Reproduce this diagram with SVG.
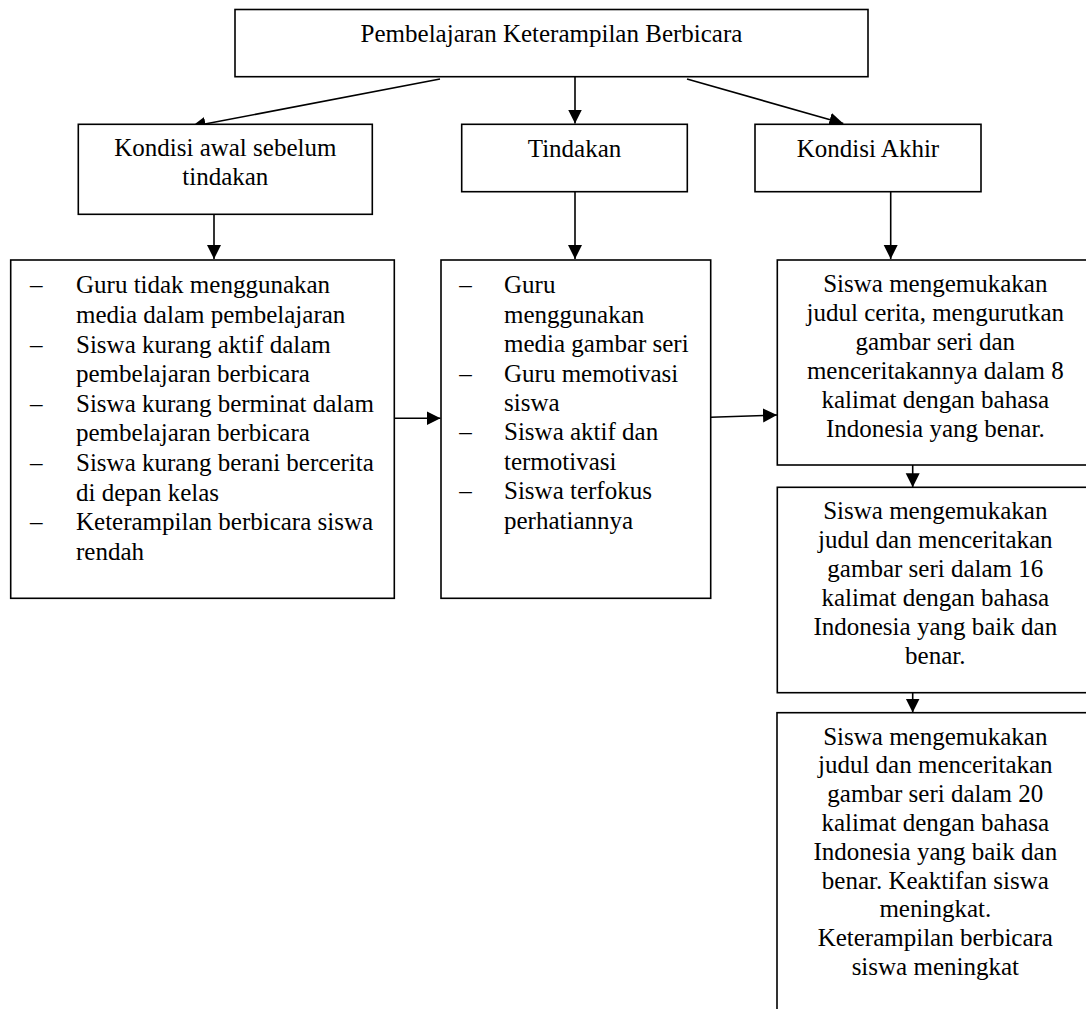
<svg xmlns="http://www.w3.org/2000/svg" width="1086" height="1009" viewBox="0 0 1086 1009">
<style>
.box{fill:#fff;stroke:#000;stroke-width:1.6}
.t{font-family:"Liberation Serif","Times New Roman",serif;font-size:25px;fill:#000}
.c{text-anchor:middle}
.ln{stroke:#000;stroke-width:1.6;fill:none;marker-end:url(#ah)}
</style>
<defs>
<marker id="ah" markerUnits="userSpaceOnUse" markerWidth="15" markerHeight="15" refX="14" refY="7" orient="auto">
<path d="M0,0 L14,7 L0,14 z" fill="#000"/>
</marker>
</defs>
<rect width="1086" height="1009" fill="#fff"/>
<g id="connectors">
<line class="ln" x1="440" y1="79" x2="191.7" y2="126.5"/>
<line class="ln" x1="575" y1="77" x2="575" y2="123.5"/>
<line class="ln" x1="687" y1="79" x2="843.3" y2="123.5"/>
<line class="ln" x1="214" y1="214.3" x2="214" y2="259"/>
<line class="ln" x1="575" y1="191.7" x2="575" y2="259"/>
<line class="ln" x1="890.7" y1="191.7" x2="890.7" y2="259"/>
<line class="ln" x1="394.3" y1="418.3" x2="440.5" y2="418.3"/>
<line class="ln" x1="710.7" y1="417.3" x2="777" y2="415"/>
<line class="ln" x1="912.7" y1="465" x2="912.7" y2="487.3"/>
<line class="ln" x1="912.7" y1="692.7" x2="912.7" y2="712.5"/>
</g>
<g id="title">
<rect class="box" x="235" y="9.5" width="633" height="67.2"/>
<text class="t c" x="551.5" y="42">Pembelajaran Keterampilan Berbicara</text>
</g>
<g id="kondisi-awal">
<rect class="box" x="78.3" y="124.3" width="294" height="90"/>
<text class="t c" x="225.3" y="156">Kondisi awal sebelum</text>
<text class="t c" x="225.3" y="185">tindakan</text>
</g>
<g id="tindakan">
<rect class="box" x="461.7" y="124.3" width="225.6" height="67.4"/>
<text class="t c" x="574.5" y="157.3">Tindakan</text>
</g>
<g id="kondisi-akhir">
<rect class="box" x="755" y="124.3" width="226" height="67.4"/>
<text class="t c" x="868" y="157.3">Kondisi Akhir</text>
</g>
<g id="awal-list">
<rect class="box" x="10.7" y="260" width="383.6" height="338.3"/>
<text class="t" x="30" y="293.3">–</text><text class="t" x="76" y="293.3">Guru tidak menggunakan</text>
<text class="t" x="76" y="322.9">media dalam pembelajaran</text>
<text class="t" x="30" y="352.5">–</text><text class="t" x="76" y="352.5">Siswa kurang aktif dalam</text>
<text class="t" x="76" y="382.1">pembelajaran berbicara</text>
<text class="t" x="30" y="411.7">–</text><text class="t" x="76" y="411.7">Siswa kurang berminat dalam</text>
<text class="t" x="76" y="441.3">pembelajaran berbicara</text>
<text class="t" x="30" y="470.9">–</text><text class="t" x="76" y="470.9">Siswa kurang berani bercerita</text>
<text class="t" x="76" y="500.5">di depan kelas</text>
<text class="t" x="30" y="530.1">–</text><text class="t" x="76" y="530.1">Keterampilan berbicara siswa</text>
<text class="t" x="76" y="559.7">rendah</text>
</g>
<g id="tindakan-list">
<rect class="box" x="441" y="260" width="269.7" height="338.3"/>
<text class="t" x="459.3" y="293.3">–</text><text class="t" x="504" y="293.3">Guru</text>
<text class="t" x="504" y="322.7">menggunakan</text>
<text class="t" x="504" y="352.1">media gambar seri</text>
<text class="t" x="459.3" y="381.5">–</text><text class="t" x="504" y="381.5">Guru memotivasi</text>
<text class="t" x="504" y="410.9">siswa</text>
<text class="t" x="459.3" y="440.3">–</text><text class="t" x="504" y="440.3">Siswa aktif dan</text>
<text class="t" x="504" y="469.7">termotivasi</text>
<text class="t" x="459.3" y="499.1">–</text><text class="t" x="504" y="499.1">Siswa terfokus</text>
<text class="t" x="504" y="528.5">perhatiannya</text>
</g>
<g id="akhir-1">
<rect class="box" x="777.3" y="260" width="316" height="205"/>
<text class="t c" x="935.3" y="291.7">Siswa mengemukakan</text>
<text class="t c" x="935.3" y="320.7">judul cerita, mengurutkan</text>
<text class="t c" x="935.3" y="349.7">gambar seri dan</text>
<text class="t c" x="935.3" y="378.7">menceritakannya dalam 8</text>
<text class="t c" x="935.3" y="407.7">kalimat dengan bahasa</text>
<text class="t c" x="935.3" y="436.7">Indonesia yang benar.</text>
</g>
<g id="akhir-2">
<rect class="box" x="777.3" y="487.3" width="316" height="205.4"/>
<text class="t c" x="935.3" y="519.3">Siswa mengemukakan</text>
<text class="t c" x="935.3" y="548.3">judul dan menceritakan</text>
<text class="t c" x="935.3" y="577.3">gambar seri dalam 16</text>
<text class="t c" x="935.3" y="606.3">kalimat dengan bahasa</text>
<text class="t c" x="935.3" y="635.3">Indonesia yang baik dan</text>
<text class="t c" x="935.3" y="664.3">benar.</text>
</g>
<g id="akhir-3">
<rect class="box" x="777" y="712.7" width="316" height="310"/>
<text class="t c" x="935.3" y="744.5">Siswa mengemukakan</text>
<text class="t c" x="935.3" y="773.3">judul dan menceritakan</text>
<text class="t c" x="935.3" y="802.1">gambar seri dalam 20</text>
<text class="t c" x="935.3" y="830.9">kalimat dengan bahasa</text>
<text class="t c" x="935.3" y="859.7">Indonesia yang baik dan</text>
<text class="t c" x="935.3" y="888.5">benar. Keaktifan siswa</text>
<text class="t c" x="935.3" y="917.3">meningkat.</text>
<text class="t c" x="935.3" y="946.1">Keterampilan berbicara</text>
<text class="t c" x="935.3" y="974.9">siswa meningkat</text>
</g>
</svg>
